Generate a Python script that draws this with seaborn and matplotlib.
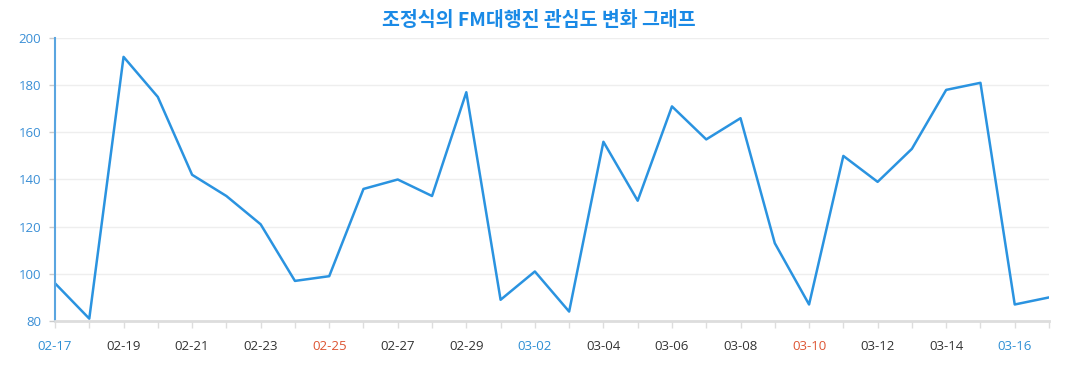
import matplotlib
matplotlib.use("Agg")
import matplotlib.pyplot as plt
import seaborn as sns
import pandas as pd

dates = ["02-17", "02-18", "02-19", "02-20", "02-21", "02-22", "02-23", "02-24", "02-25", "02-26",
         "02-27", "02-28", "02-29", "03-01", "03-02", "03-03", "03-04", "03-05", "03-06", "03-07",
         "03-08", "03-09", "03-10", "03-11", "03-12", "03-13", "03-14", "03-15", "03-16", "03-17"]
values = [96, 81, 192, 175, 142, 133, 121, 97, 99, 136,
          140, 133, 177, 89, 101, 84, 156, 131, 171, 157,
          166, 113, 87, 150, 139, 153, 178, 181, 87, 90]
saturdays = ["02-17", "02-24", "03-02", "03-09", "03-16"]
sundays = ["02-18", "02-25", "03-03", "03-10", "03-17"]
yticks = [80, 100, 120, 140, 160, 180, 200]
title = "조정식의 FM대행진 관심도 변화 그래프"

sns.set_theme(style="white")
plt.rcParams['font.family'] = ['Open Sans', 'Noto Sans CJK KR', 'DejaVu Sans']

df = pd.DataFrame({"idx": range(len(dates)), "date": dates, "value": values})

fig = plt.figure(figsize=(10.77, 3.9), dpi=100)
ax = fig.add_axes([55/1077, 1-321/390, (1049-55)/1077, (321-38)/390])

sns.lineplot(data=df, x="idx", y="value", ax=ax, color="#2a93e0", linewidth=1.8)

ax.set_xlim(0, len(dates)-1)
ax.set_ylim(80, 200)
ax.set_yticks(yticks)
ax.set_yticklabels([str(v) for v in yticks], color="#3a8fd6", fontsize=9.5)
ax.yaxis.grid(True, color="#eeeeee", linewidth=1)
ax.xaxis.grid(False)

ax.set_xticks(range(len(dates)))
labels = [d if i % 2 == 0 else "" for i, d in enumerate(dates)]
ax.set_xticklabels(labels, fontsize=9.5)
for lbl, d in zip(ax.get_xticklabels(), dates):
    if d in saturdays:
        lbl.set_color("#2e8fd4")
    elif d in sundays:
        lbl.set_color("#dd5533")
    else:
        lbl.set_color("#333333")

ax.tick_params(axis="x", direction="out", length=5, width=1, color="#dddddd", pad=9, bottom=True)
ax.tick_params(axis="y", direction="out", length=4, width=1, color="#cccccc", pad=6, left=True)

for s in ["top", "right"]:
    ax.spines[s].set_visible(False)
ax.spines["bottom"].set_color("#dddddd")
ax.spines["bottom"].set_linewidth(2)
ax.spines["left"].set_color("#5aa5e0")
ax.spines["left"].set_linewidth(1.5)

ax.set_xlabel("")
ax.set_ylabel("")

fig.text(0.5, 1-20/390, title, ha="center", va="center", fontsize=14, fontweight="bold",
         color="#1a8ae6", family=['Noto Sans CJK KR', 'DejaVu Sans'])

fig.savefig("out.png", dpi=100)
